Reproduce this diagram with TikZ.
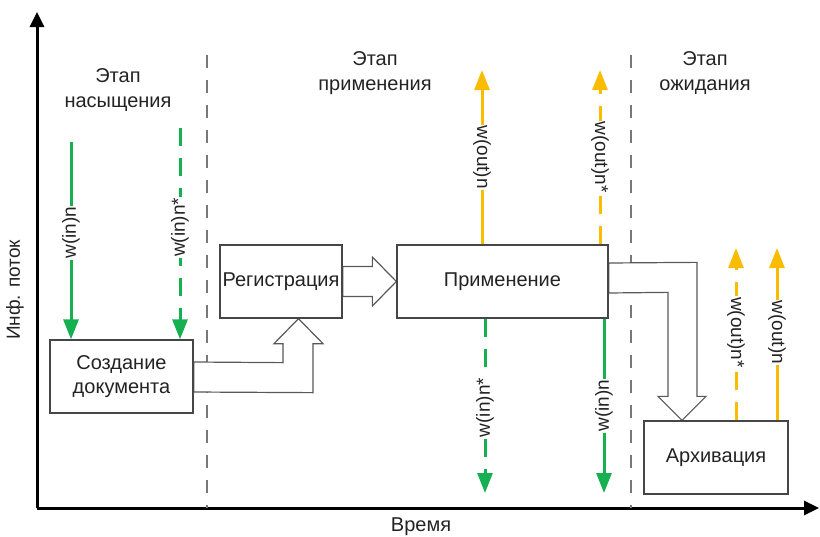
\documentclass[tikz,border=0pt]{standalone}
\usepackage{fontspec}
\setmainfont{Liberation Sans}
\usetikzlibrary{arrows.meta,calc,backgrounds}
\definecolor{flowgreen}{RGB}{22,176,80}
\definecolor{flowamber}{RGB}{250,188,0}
\definecolor{edgegray}{RGB}{70,70,70}
\definecolor{phasegray}{RGB}{120,120,120}
\definecolor{inkgray}{RGB}{35,35,35}
\begin{document}
\begin{tikzpicture}[x=1pt,y=-1pt,
  every node/.style={font=\fontsize{20}{24.5}\selectfont, text=inkgray},
  stagebox/.style={draw=edgegray, line width=1.3pt, fill=white, inner sep=0pt, align=center},
  axisline/.style={line width=3pt, -{Triangle[width=14pt,length=15pt]}},
  phaseline/.style={draw=phasegray, line width=1.5pt, dash pattern=on 13pt off 12pt},
  blockarrow/.style={draw=edgegray!90, line width=1.2pt, fill=white, line join=miter},
  flowin/.style={draw=flowgreen, line width=3pt, -{Triangle[width=15pt,length=20pt]}},
  flowout/.style={draw=flowamber, line width=3pt, -{Triangle[width=15pt,length=20pt]}},
  broken/.style={dash pattern=on 18pt off 12pt},
  flowlabel/.style={fill=white, inner sep=1pt, font=\fontsize{19}{23}\selectfont}
]
\useasboundingbox (0,0) rectangle (820,536);

% stage boxes
\node[stagebox, minimum width=143pt, minimum height=73pt] (create) at (121.5,376.5) {Создание\\документа};
\node[stagebox, minimum width=122pt, minimum height=73pt] (reg) at (281,281.5) {Регистрация};
\node[stagebox, minimum width=211pt, minimum height=73pt] (apply) at (502.5,281.5) {Применение};
\node[stagebox, minimum width=144pt, minimum height=73pt] (arch) at (716,457.5) {Архивация};

% axes and their labels
\coordinate (origin) at (37,508);
\coordinate (ytop) at (37,12);
\coordinate (xend) at (819,508);
\node[rotate=90, font=\fontsize{19}{23}\selectfont] (ylab) at (15,290) {Инф. поток};
\node (xlab) at (421,527) {Время};

% phase headings
\node[align=center] (ph1) at (118,90) {Этап\\насыщения};
\node[align=center] (ph2) at (375,73) {Этап\\применения};
\node[align=center] (ph3) at (705,73) {Этап\\ожидания};

\begin{scope}[on background layer]
  \draw[axisline] (origin) -- (ytop);
  \draw[axisline] (origin) -- (xend);
  % phase borders
  \coordinate (b1top) at (207,55);
  \coordinate (b2top) at (631,55);
  \draw[phaseline] (b1top) -- (b1top |- origin);
  \draw[phaseline] (b2top) -- (b2top |- origin);

  % hollow block arrows between the stages
  \draw[blockarrow] ($(reg.east)+(0,-15)$) -- ($(apply.west)+(-24,-15)$)
    -- ($(apply.west)+(-24,-24.5)$) -- (apply.west) -- ($(apply.west)+(-24,24.5)$)
    -- ($(apply.west)+(-24,15)$) -- ($(reg.east)+(0,15)$) -- cycle;

  \coordinate (t2) at ($(reg.south)+(17.5,0)$);
  \draw[blockarrow] ($(create.east)+(0,15.5)$) -- ($(t2)+(14.5,74)$)
    -- ($(t2)+(14.5,25)$) -- ($(t2)+(24.5,25)$) -- (t2) -- ($(t2)+(-24.5,25)$)
    -- ($(t2)+(-15.5,25)$) -- ($(t2)+(-15.5,44)$) -- ($(create.east)+(0,-14.5)$) -- cycle;

  \coordinate (t3) at ($(arch.north)+(-34,0)$);
  \draw[blockarrow] ($(apply.east)+(0,-18.5)$) -- ($(t3)+(15,-158)$)
    -- ($(t3)+(15,-24)$) -- ($(t3)+(24,-24)$) -- (t3) -- ($(t3)+(-24,-24)$)
    -- ($(t3)+(-14,-24)$) -- ($(t3)+(-14,-128)$) -- ($(apply.east)+(0,11.5)$) -- cycle;
\end{scope}

% incoming flows into document creation
\coordinate (in1) at (71,142);
\coordinate (in2) at (180,128);
\draw[flowin] (in1) -- (in1 |- create.north)
  node[flowlabel, rotate=90, pos=0.46] {w(in)n};
\draw[flowin, broken] (in2) -- (in2 |- create.north)
  node[flowlabel, rotate=90, pos=0.47] {w(in)n*};

% flows of the application stage
\coordinate (out1) at (482,70);
\coordinate (out2) at (600,70);
\draw[flowout] (out1 |- apply.north) -- (out1)
  node[flowlabel, rotate=-90, pos=0.5] {w(out)n};
\draw[flowout, broken] (out2 |- apply.north) -- (out2)
  node[flowlabel, rotate=-90, pos=0.5] {w(out)n*};
\coordinate (in3) at (485,493);
\coordinate (in4) at (604,493);
\draw[flowin, broken] (in3 |- apply.south) -- (in3)
  node[flowlabel, rotate=90, pos=0.51] {w(in)n*};
\draw[flowin] (in4 |- apply.south) -- (in4)
  node[flowlabel, rotate=90, pos=0.5] {w(in)n};

% outgoing flows from the archive
\coordinate (out3) at (736,248);
\coordinate (out4) at (777,248);
\draw[flowout, broken] (out3 |- arch.north) -- (out3)
  node[flowlabel, rotate=-90, pos=0.51] {w(out)n*};
\draw[flowout] (out4 |- arch.north) -- (out4)
  node[flowlabel, rotate=-90, pos=0.51] {w(out)n};
\end{tikzpicture}
\end{document}
